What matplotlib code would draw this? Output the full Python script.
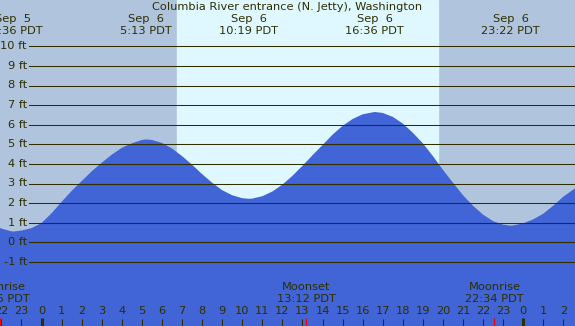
import matplotlib
matplotlib.use("Agg")
import matplotlib.pyplot as plt
import matplotlib.transforms as mtransforms

# hours relative to midnight starting Sep 6 (PDT), heights
tide_hours = [-2.07, -2, -1.5, -1.4, -1, -0.5, 0, 0.5, 1, 1.5, 2, 2.5, 3, 3.5,
              4, 4.5, 5, 5.22, 5.5, 6, 6.5, 7, 7.5, 8, 8.5, 9, 9.5, 10, 10.32,
              10.5, 11, 11.5, 12, 12.5, 13, 13.5, 14, 14.5, 15, 15.5, 16, 16.6,
              17, 17.5, 18, 18.5, 19, 19.5, 20, 20.5, 21, 21.5, 22, 22.5, 23,
              23.37, 23.5, 24, 24.5, 25, 25.5, 26, 26.58]
tide_ft = [0.73, 0.70, 0.56, 0.55, 0.60, 0.72, 0.98, 1.48, 2.06, 2.62, 3.12,
           3.62, 4.06, 4.47, 4.82, 5.05, 5.22, 5.25, 5.22, 5.07, 4.79, 4.40,
           3.96, 3.48, 3.04, 2.66, 2.40, 2.25, 2.22, 2.23, 2.35, 2.59, 2.94,
           3.39, 3.90, 4.44, 4.96, 5.49, 5.94, 6.29, 6.53, 6.65, 6.60, 6.40,
           6.06, 5.59, 5.05, 4.40, 3.70, 3.04, 2.40, 1.86, 1.41, 1.08, 0.90,
           0.85, 0.86, 0.97, 1.17, 1.46, 1.87, 2.33, 2.75]

# high / low tide labels
extreme_hours = [-1.4, 5.22, 10.32, 16.6, 23.37]
extreme_days = ["Sep  5", "Sep  6", "Sep  6", "Sep  6", "Sep  6"]
extreme_times = ["22:36 PDT", "5:13 PDT", "10:19 PDT", "16:36 PDT", "23:22 PDT"]

# sun: daylight span
sunrise_hour = 6.74
sunset_hour = 19.73

# moon events
moon_hours = [-2.067, 13.2, 22.567]
moon_names = ["Moonrise", "Moonset", "Moonrise"]
moon_times = ["21:56 PDT", "13:12 PDT", "22:34 PDT"]

grid_levels = list(range(-1, 11))
hour_ticks = list(range(-2, 27))

title = "Columbia River entrance (N. Jetty), Washington"

night = "#b0c4de"
day = "#dff8ff"
water = "#4164d6"
ink = "#2e2e00"

W, H = 575, 326
fig = plt.figure(figsize=(W / 100, H / 100), dpi=100)
ax = fig.add_axes([0, 0, 1, 1])
ax.set_xlim(-2.068, 26.58)
ax.set_ylim((242.3 - H) / 19.6, 242.3 / 19.6)
ax.axis("off")
fig.patch.set_facecolor(night)


def py(p):
    # pixel row -> axes fraction
    return 1 - p / H


xdata_yaxes = mtransforms.blended_transform_factory(ax.transData, ax.transAxes)
xaxes_ydata = mtransforms.blended_transform_factory(ax.transAxes, ax.transData)

ax.axvspan(sunrise_hour, sunset_hour, color=day, zorder=0)
ax.fill_between(tide_hours, tide_ft, -10, color=water, lw=0, zorder=1)

fs = 8.2
for lvl in grid_levels:
    ax.axhline(lvl, xmin=29 / W, xmax=1, color=ink, lw=0.75, zorder=2)
    ax.text(27 / W, lvl, f"{lvl} ft", transform=xaxes_ydata, ha="right",
            va="center", fontsize=fs, color=ink)

ax.text(0.5, py(7.5), title, transform=ax.transAxes, ha="center", va="center",
        fontsize=fs, color=ink)
for h, d, t in zip(extreme_hours, extreme_days, extreme_times):
    ax.text(h, py(19.5), d, transform=xdata_yaxes, ha="center", va="center",
            fontsize=fs, color=ink)
    ax.text(h, py(31.5), t, transform=xdata_yaxes, ha="center", va="center",
            fontsize=fs, color=ink)

for h, n, t in zip(moon_hours, moon_names, moon_times):
    ax.text(h, py(287.5), n, transform=xdata_yaxes, ha="center", va="center",
            fontsize=fs, color=ink)
    ax.text(h, py(299.5), t, transform=xdata_yaxes, ha="center", va="center",
            fontsize=fs, color=ink)
    ax.vlines(h, 0, py(318), transform=xdata_yaxes, color="red", lw=1.0, zorder=3)

for h in hour_ticks:
    ax.text(h, py(311.5), str(h % 24), transform=xdata_yaxes, ha="center",
            va="center", fontsize=fs, color=ink)
    if h % 24 == 0:
        ax.vlines(h, 0, py(317.5), transform=xdata_yaxes, color=ink, lw=2.2, zorder=3)
    else:
        ax.vlines(h, 0, py(319), transform=xdata_yaxes, color=ink, lw=0.75, zorder=3)

fig.savefig("out.png", dpi=100, facecolor=night)
